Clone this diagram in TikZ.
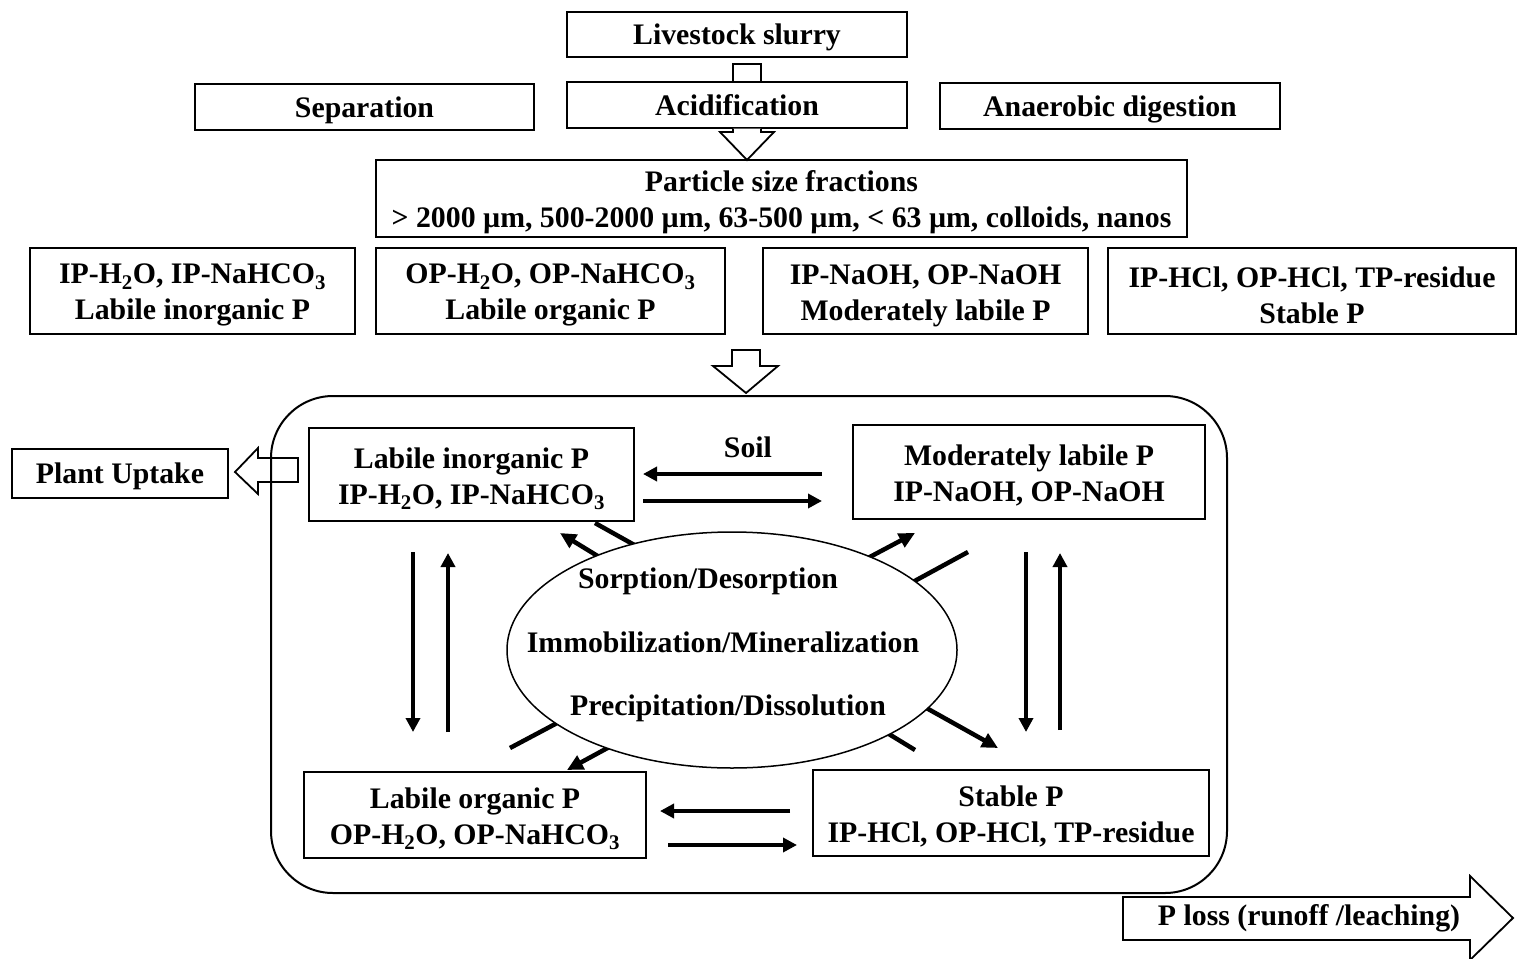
\documentclass[tikz,border=0pt]{standalone}
\usepackage{fontspec}
\setmainfont{Liberation Serif}
\usetikzlibrary{arrows.meta,shapes.geometric}
\tikzset{
  txtm/.style={font=\fontsize{29.8}{36}\selectfont\bfseries, align=center, inner sep=0pt},
  txt/.style={txtm, text height=28pt, text depth=7.4pt},
  box/.style={txt, draw, line width=2pt, minimum width=#1},
  boxm/.style={txtm, draw, line width=2pt, minimum width=#1},
  blk/.style={draw, line width=1.8pt, line join=miter},
  arr/.style={line width=4pt, -{Triangle[length=14pt,width=14pt]}},
  darr/.style={line width=4.5pt, -{Triangle[length=16pt,width=15pt]}}
}
\newcommand{\sub}[1]{\textsubscript{#1}}
\newcommand{\st}{\rule{0pt}{28.5pt}}
\begin{document}
\begin{tikzpicture}[x=1pt,y=-1pt]
\useasboundingbox (0,0) rectangle (1517,958);
% top boxes
\node[box=340pt, minimum height=45pt] (slurry) at (737,34.5) {Livestock slurry};
\node[box=340pt, minimum height=46pt] (acid) at (737,105) {Acidification};
\node[box=339pt, minimum height=46pt] (sep) at (364.5,107) {Separation};
\node[box=340pt, minimum height=46pt] (anaer) at (1110,106) {Anaerobic digestion};
\node[boxm=811pt, minimum height=77pt] (psf) at (781.5,198.5) {\st Particle size fractions\\ \textgreater{} 2000 µm, 500-2000 µm, 63-500 µm, \textless{} 63 µm, colloids, nanos};
% fraction row
\node[boxm=325pt, minimum height=86pt] (f1) at (192.5,291) {\st IP-H\sub{2}O, IP-NaHCO\sub{3}\\ Labile inorganic P};
\node[boxm=349pt, minimum height=86pt] (f2) at (550.5,291) {\st OP-H\sub{2}O, OP-NaHCO\sub{3}\\ Labile organic P};
\node[boxm=325pt, minimum height=86pt] (f3) at (925.5,291) {\st IP-NaOH, OP-NaOH\\ Moderately labile P};
\node[boxm=408pt, minimum height=86pt] (f4) at (1312,291) {\st IP-HCl, OP-HCl, TP-residue\\ Stable P};
% small connector slurry -> acidification
\draw[blk] (733,82) -- (733,64) -- (761,64) -- (761,82);
% block arrow acidification -> psf
\draw[blk, fill=white] (733,128.5) -- (733,132) -- (720,132) -- (747,160) -- (774,132) -- (761,132) -- (761,128.5);
% block arrow fractions -> soil
\draw[blk] (732,350) -- (760,350) -- (760,366) -- (778,366) -- (746,393) -- (713,366) -- (732,366) -- cycle;
% soil rounded box
\node[draw, line width=2pt, rounded corners=62pt, minimum width=956pt, minimum height=497pt, inner sep=0pt] (soil) at (749,644.5) {};
\node[txt] (soiltxt) at (748,447) {Soil};
% pool boxes
\node[boxm=325pt, minimum height=93pt] (lip) at (471.5,474.5) {\st Labile inorganic P\\ IP-H\sub{2}O, IP-NaHCO\sub{3}};
\node[boxm=352pt, minimum height=94pt] (mlp) at (1029,472) {\st Moderately labile P\\ IP-NaOH, OP-NaOH};
\node[boxm=342pt, minimum height=86pt] (lop) at (475,815) {\st Labile organic P\\ OP-H\sub{2}O, OP-NaHCO\sub{3}};
\node[boxm=396pt, minimum height=86pt] (sp) at (1011,813) {\st Stable P\\ IP-HCl, OP-HCl, TP-residue};
% horizontal arrows
\coordinate (h1a) at (822,474); \coordinate (h1b) at (643,474);
\coordinate (h2a) at (643,501); \coordinate (h2b) at (822,501);
\coordinate (h3a) at (790,811); \coordinate (h3b) at (660,811);
\coordinate (h4a) at (668,845); \coordinate (h4b) at (797,845);
\draw[arr] (h1a) -- (h1b);
\draw[arr] (h2a) -- (h2b);
\draw[arr] (h3a) -- (h3b);
\draw[arr] (h4a) -- (h4b);
% vertical arrows
\coordinate (v1a) at (413,552); \coordinate (v1b) at (413,732);
\coordinate (v2a) at (448,732); \coordinate (v2b) at (448,553);
\coordinate (v3a) at (1026,552); \coordinate (v3b) at (1026,732);
\coordinate (v4a) at (1060,730); \coordinate (v4b) at (1060,553);
\draw[arr] (v1a) -- (v1b);
\draw[arr] (v2a) -- (v2b);
\draw[arr] (v3a) -- (v3b);
\draw[arr] (v4a) -- (v4b);
% diagonal arrows (behind the ellipse)
\coordinate (d1a) at (595,523); \coordinate (d1b) at (998,748);
\coordinate (d2a) at (915,750); \coordinate (d2b) at (560,533);
\coordinate (d3a) at (510,748); \coordinate (d3b) at (915,533);
\coordinate (d4a) at (968,552); \coordinate (d4b) at (567,770);
\draw[darr] (d1a) -- (d1b);
\draw[darr] (d2a) -- (d2b);
\draw[darr] (d3a) -- (d3b);
\draw[darr] (d4a) -- (d4b);
% ellipse
\node[ellipse, draw, fill=white, line width=1.5pt, minimum width=450pt, minimum height=236pt, inner sep=0pt] (proc) at (732,650) {};
\node[txt] (t1) at (708,578) {Sorption/Desorption};
\node[txt] (t2) at (723,642) {Immobilization/Mineralization};
\node[txt] (t3) at (728,705) {Precipitation/Dissolution};
% plant uptake
\node[box=216pt, minimum height=49pt] (plant) at (120,473.5) {Plant Uptake};
\draw[blk] (298,458) -- (258,458) -- (258,448) -- (235,472) -- (258,494) -- (258,482) -- (298,482) -- cycle;
% P loss
\draw[blk] (1123,897) -- (1470,897) -- (1470,876) -- (1513,918) -- (1470,960) -- (1470,940) -- (1123,940) -- cycle;
\node[txt] (ploss) at (1309,915) {P loss (runoff /leaching)};
\end{tikzpicture}
\end{document}
